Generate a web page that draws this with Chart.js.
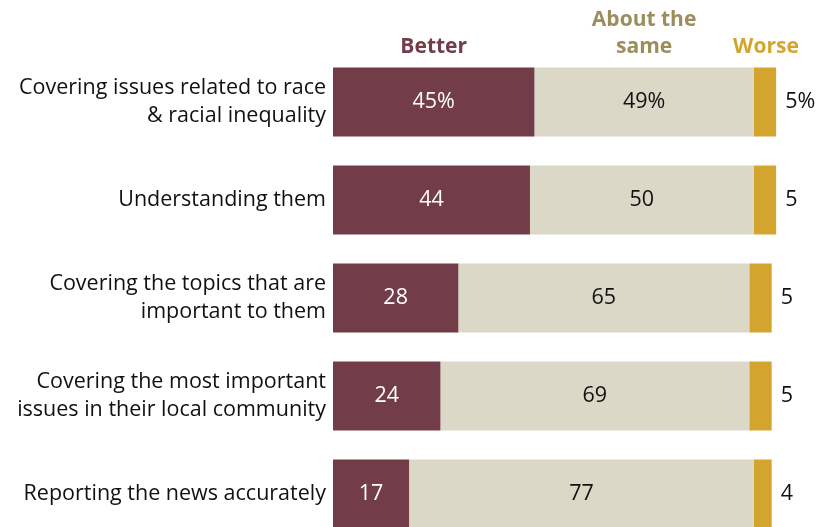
<!DOCTYPE html>
<html>
<head>
<meta charset="utf-8">
<script src="https://cdn.jsdelivr.net/npm/chart.js@4"></script>
<style>
  html, body { margin: 0; padding: 0; background: #fff; overflow: hidden; }
  canvas { display: block; }
</style>
</head>
<body>
<canvas id="chart" width="826" height="545"></canvas>
<script>
// categories and shares (%)
const categories = [
  ['Covering issues related to race', '& racial inequality'],
  'Understanding them',
  ['Covering the topics that are', 'important to them'],
  ['Covering the most important', 'issues in their local community'],
  'Reporting the news accurately'
];
const better = [45, 44, 28, 24, 17];
const aboutSame = [49, 50, 65, 69, 77];
const worse = [5, 5, 5, 5, 4];

const seriesNames = ['Better', ['About the', 'same'], 'Worse'];
const barColors = ['#723c49', '#dbd8c7', '#d3a52f'];
const headColors = ['#723c49', '#9c8d5d', '#d3a52f'];

const FONT = '"Open Sans", "Liberation Sans", Arial, sans-serif';

// value labels + series headers
const labelPlugin = {
  id: 'barLabels',
  afterDatasetsDraw(chart) {
    const c = chart.ctx;
    c.save();
    c.textBaseline = 'middle';
    chart.data.datasets.forEach((ds, di) => {
      const meta = chart.getDatasetMeta(di);
      c.font = '21.5px ' + FONT;
      meta.data.forEach((bar, i) => {
        const txt = ds.data[i] + (i === 0 ? '%' : '');
        if (di === 2) {
          c.textAlign = 'left';
          c.fillStyle = '#111';
          c.fillText(txt, bar.x + 9, bar.y);
        } else {
          c.textAlign = 'center';
          c.fillStyle = di === 0 ? '#fff' : '#111';
          c.fillText(txt, (bar.base + bar.x) / 2, bar.y);
        }
      });
      // header above first row
      const first = meta.data[0];
      const cx = (first.base + first.x) / 2 + (di === 2 ? 1 : 0);
      const name = seriesNames[di];
      const lines = Array.isArray(name) ? name : [name];
      c.font = 'bold 21px ' + FONT;
      c.textAlign = 'center';
      c.fillStyle = headColors[di];
      lines.forEach((ln, k) => {
        c.fillText(ln, cx, 47 - (lines.length - 1 - k) * 27);
      });
    });
    c.restore();
  }
};

new Chart(document.getElementById('chart'), {
  type: 'bar',
  data: {
    labels: categories,
    datasets: [
      { label: 'Better', data: better, backgroundColor: barColors[0] },
      { label: 'About the same', data: aboutSame, backgroundColor: barColors[1] },
      { label: 'Worse', data: worse, backgroundColor: barColors[2] }
    ]
  },
  options: {
    indexAxis: 'y',
    responsive: false,
    animation: false,
    // canvas is taller than the window, so the last row runs off the bottom
    layout: { padding: { top: 53, right: 23, bottom: 2, left: 0 } },
    datasets: { bar: { categoryPercentage: 1, barPercentage: 0.704, borderWidth: 0 } },
    plugins: { legend: { display: false }, tooltip: { enabled: false } },
    scales: {
      x: { stacked: true, min: 0, max: 105, display: false },
      y: {
        stacked: true,
        grid: { display: false, drawTicks: false },
        border: { display: false },
        ticks: {
          color: '#111',
          padding: 7,
          font: { family: FONT, size: 21.5, lineHeight: 1.3 }
        },
        afterFit(axis) {
          axis.width = 333;
          axis.paddingTop = 0;
          axis.paddingBottom = 0;
        }
      }
    }
  },
  plugins: [labelPlugin]
});
</script>
</body>
</html>
